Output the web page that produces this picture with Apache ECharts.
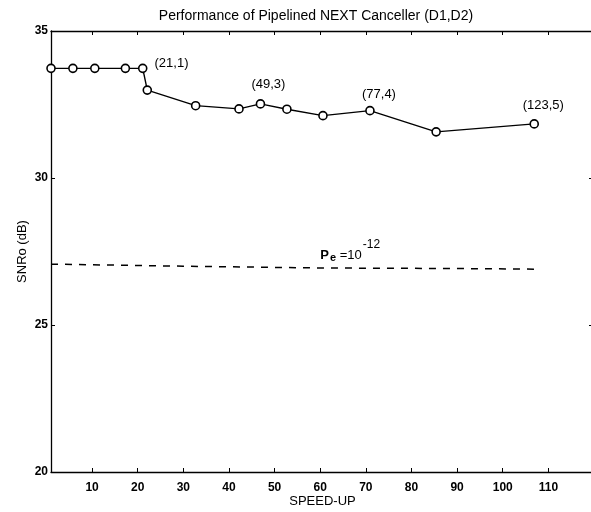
<!DOCTYPE html>
<html>
<head>
<meta charset="utf-8">
<script src="https://cdn.jsdelivr.net/npm/echarts@6/dist/echarts.min.js"></script>
<style>
  html, body { margin: 0; padding: 0; background: #fff; }
  #main { width: 591px; height: 512px; }
</style>
</head>
<body>
<div id="main"></div>
<script type="text/javascript">
    // 数据
    var speedUp = [1, 5.8, 10.6, 17.3, 21.1, 22.1, 32.7, 42.2, 46.9, 52.7, 60.6, 70.9, 85.4, 106.9];
    var snrRo = [33.73, 33.73, 33.73, 33.73, 33.73, 32.99, 32.46, 32.35, 32.52, 32.34, 32.12, 32.29, 31.57, 31.84];
    // 标注：点的下标 -> 文字
    var notePoint = [4, 8, 11, 13];
    var noteText = ['(21,1)', '(49,3)', '(77,4)', '(123,5)'];
    // Pe = 10^-12 虚线
    var peX = [1, 30, 60, 90, 107];
    var peY = [27.07, 27.0, 26.94, 26.92, 26.9];
    var xTicks = [10, 20, 30, 40, 50, 60, 70, 80, 90, 100, 110];

    var font = 'Liberation Sans, Arial, sans-serif';
    var noteOffset = [[2, -5], [8, -3], [9, 0], [9, -2]];
    var myChart = echarts.init(document.getElementById('main'));

    var lineData = speedUp.map(function (x, i) {
        var item = { value: [x, snrRo[i]] };
        var k = notePoint.indexOf(i);
        if (k >= 0) {
            item.label = {
                show: true,
                formatter: noteText[k],
                position: k === 0 ? 'right' : 'top',
                offset: noteOffset[k]
            };
        }
        return item;
    });

    var peData = peX.map(function (x, i) {
        var item = { value: [x, peY[i]] };
        if (x === 60) {
            item.label = {
                show: true,
                position: 'top',
                offset: [30, 8],
                formatter: '{p|P}{e|e} ={n|10}{s|-12}',
                rich: {
                    p: { fontSize: 13, fontFamily: font, color: '#000', fontWeight: 'bold' },
                    e: { fontSize: 11, fontFamily: font, color: '#000', fontWeight: 'bold', padding: [6, 0, 0, 1] },
                    n: { fontSize: 13, fontFamily: font, color: '#000' },
                    s: { fontSize: 12, fontFamily: font, color: '#000', padding: [0, 0, 20, 1] }
                }
            };
        }
        return item;
    });

    var option = {
        animation: false,
        backgroundColor: '#fff',
        title: {
            text: 'Performance of Pipelined NEXT Canceller (D1,D2)',
            left: 311,
            textAlign: 'center',
            top: 4,
            textStyle: { fontFamily: font, fontSize: 14, fontWeight: 'normal', color: '#000' }
        },
        grid: { left: 51, right: -3, top: 31, bottom: 40, outerBoundsMode: 'none' },
        xAxis: [{
            type: 'value',
            min: 1,
            max: 120,
            name: 'SPEED-UP',
            nameLocation: 'middle',
            nameGap: 23,
            nameMoveOverlap: false,
            nameTextStyle: { fontFamily: font, fontSize: 13, color: '#000' },
            axisLine: { show: true, lineStyle: { color: '#000', width: 1.3 } },
            axisTick: { show: true, inside: true, length: 4, customValues: xTicks, lineStyle: { color: '#000' } },
            axisLabel: { customValues: xTicks, fontFamily: font, fontSize: 12, fontWeight: 'bold', color: '#000', margin: 10 },
            splitLine: { show: false }
        }, {
            type: 'value',
            position: 'top',
            min: 1,
            max: 120,
            axisLine: { show: true, lineStyle: { color: '#000', width: 1.3 } },
            axisTick: { show: true, inside: true, length: 4, customValues: xTicks, lineStyle: { color: '#000' } },
            axisLabel: { show: false },
            splitLine: { show: false }
        }],
        yAxis: [{
            type: 'value',
            min: 20,
            max: 35,
            interval: 5,
            name: 'SNRo (dB)',
            nameLocation: 'middle',
            nameGap: 22,
            nameMoveOverlap: false,
            nameTextStyle: { fontFamily: font, fontSize: 13, color: '#000' },
            axisLine: { show: true, lineStyle: { color: '#000', width: 1.3 } },
            axisTick: { show: true, inside: true, length: 4, lineStyle: { color: '#000' } },
            axisLabel: { fontFamily: font, fontSize: 12, fontWeight: 'bold', color: '#000', margin: 3 },
            splitLine: { show: false }
        }, {
            type: 'value',
            position: 'right',
            min: 20,
            max: 35,
            interval: 5,
            axisLine: { show: true, lineStyle: { color: '#000', width: 1.3 } },
            axisTick: { show: true, inside: true, length: 5, lineStyle: { color: '#000' } },
            axisLabel: { show: false },
            splitLine: { show: false }
        }],
        series: [{
            type: 'line',
            data: lineData,
            symbol: 'circle',
            symbolSize: 8,
            lineStyle: { color: '#000', width: 1.4 },
            itemStyle: { color: '#fff', borderColor: '#000', borderWidth: 1.6 },
            label: { fontFamily: font, fontSize: 13, color: '#000' }
        }, {
            type: 'line',
            data: peData,
            symbol: 'circle',
            symbolSize: 0,
            showSymbol: true,
            lineStyle: { color: '#000', width: 1.5, type: [7, 7] },
            itemStyle: { color: '#000' },
            label: { fontFamily: font, fontSize: 13, color: '#000' }
        }]
    };
    myChart.setOption(option);
</script>
</body>
</html>
